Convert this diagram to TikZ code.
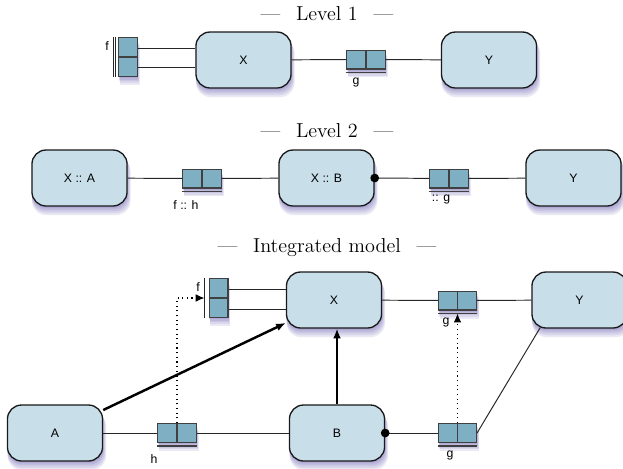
\documentclass[tikz,border=0pt]{standalone}
\usepackage{fontspec}
\setsansfont{Liberation Sans}
\usepackage{tikz}
\usetikzlibrary{arrows.meta,calc,shadows}
\definecolor{boxfill}{HTML}{C8DEE9}
\definecolor{portfill}{HTML}{7FAFC3}
\definecolor{shadecol}{HTML}{4A3F9E}
\tikzset{
  shadelayer/.style = {drop shadow={shadow xshift=#1*.22pt,shadow yshift=-#1*1pt,
                       shadow scale=1+#1*.008,fill=shadecol,opacity=.11}},
  softshadow/.style = {shadelayer=4.5, shadelayer=3.6, shadelayer=2.7, shadelayer=1.8, shadelayer=1},
  block/.style      = {draw=black!90, line width=.75pt, fill=boxfill, rounded corners=8pt,
                       minimum width=54.2pt, minimum height=31.9pt, inner sep=0pt,
                       font=\sffamily\scriptsize, softshadow},
  portcell/.style   = {draw=black!75, line width=.6pt, fill=portfill, inner sep=0pt, softshadow},
  hport/.style      = {portcell, minimum width=21.7pt, minimum height=10.8pt,
                       path picture={\draw[black!75,line width=.6pt]
                         (path picture bounding box.north) -- (path picture bounding box.south);}},
  vport/.style      = {portcell, minimum width=10.8pt, minimum height=21.7pt,
                       path picture={\draw[black!75,line width=.6pt]
                         (path picture bounding box.west) -- (path picture bounding box.east);}},
  wire/.style       = {black!85, line width=.55pt},
  uline/.style      = {black!75, line width=.8pt},
  depend/.style     = {-{Latex[length=5.5pt,width=4.5pt]}, line width=1.4pt},
  trigger/.style    = {-{Latex[length=5pt,width=4.4pt]}, dotted, line width=.65pt},
  portlbl/.style    = {font=\sffamily\scriptsize, inner sep=0pt},
  leveltitle/.style = {font=\fontsize{11.5}{13}\selectfont},
  joint/.style      = {circle, fill=black, inner sep=0pt, minimum size=5pt}
}
\newcommand{\lvl}[1]{---\hspace{9pt}#1\hspace{9pt}---}

\begin{document}
\begin{tikzpicture}[x=0.57pt,y=-0.57pt]
  \useasboundingbox (0,0) rectangle (623,468);

  \node[leveltitle] (t1) at (327,14) {\lvl{Level 1}};
  \node[block] (X1) at (243.5,60) {X};
  \node[block] (Y1) at (489,60) {Y};
  \node[hport] (g1) at (366,59.5) {};
  \node[vport] (f1) at (128,57) {};
  \node[portlbl] (g1l) at (356,82) {g};
  \node[portlbl] (f1l) at (107,46) {f};
  \draw[wire] (X1) -- (g1) -- (Y1);
  \coordinate (f1u) at ($(f1.north east)!.28!(f1.south east)$);
  \coordinate (f1d) at ($(f1.north east)!.78!(f1.south east)$);
  \draw[wire] (f1u) -- (f1u -| X1.west);
  \draw[wire] (f1d) -- (f1d -| X1.west);
  \draw[wire] ([xshift=-1.3pt]f1.north west) -- ([xshift=-1.3pt]f1.south west);
  \draw[wire] ([xshift=-2.5pt]f1.north west) -- ([xshift=-2.5pt]f1.south west);

  \node[leveltitle] (t2) at (327,131) {\lvl{Level 2}};
  \node[block] (XA) at (79.5,178) {X :: A};
  \node[block] (XB) at (326.5,178) {X :: B};
  \node[block] (Y2) at (573.5,178) {Y};
  \node[hport] (fh) at (202,178.5) {};
  \node[hport] (gg) at (449,178.5) {};
  \node[portlbl] (fhl) at (186,205) {f :: h};
  \node[portlbl] (ggl) at (441,199) {:: g};
  \draw[wire] (XA) -- (fh) -- (XB);
  \draw[wire] (XB.east) -- (gg) -- (Y2);
  \node[joint] (jB2) at (XB.east) {};

  \node[leveltitle] (t3) at (327,248) {\lvl{Integrated model}};
  \node[block] (X3) at (334,300) {X};
  \node[block] (Y3) at (579.5,300) {Y};
  \node[block] (A) at (55,433) {A};
  \node[block] (B) at (337,433) {B};
  \node[hport] (gI) at (457.5,300.5) {};
  \node[vport] (fI) at (218.5,298) {};
  \node[hport] (hI) at (177,433) {};
  \node[hport] (gII) at (457.5,433) {};
  \node[portlbl] (gIl) at (446,322) {g};
  \node[portlbl] (fIl) at (198,287) {f};
  \node[portlbl] (hIl) at (154,459) {h};
  \node[portlbl] (gIIl) at (450,455) {g};
  \draw[wire] (X3) -- (gI) -- (Y3);
  \coordinate (fIu) at ($(fI.north east)!.29!(fI.south east)$);
  \coordinate (fId) at ($(fI.north east)!.79!(fI.south east)$);
  \draw[wire] (fIu) -- (fIu -| X3.west);
  \draw[wire] (fId) -- (fId -| X3.west);
  \draw[wire] ([xshift=-2.3pt]fI.north west) -- ([xshift=-2.3pt]fI.south west);
  \coordinate (fIbar) at ([xshift=-2.3pt]fI.west);
  \draw[wire] (A) -- (hI) -- (B);
  \draw[wire] (B.east) -- (gII);
  \node[joint] (jB3) at (B.east) {};
  \draw[wire] (gII.east) -- ([xshift=5.1pt,yshift=.6pt]Y3.south west);
  \draw[depend] (A) -- (X3);
  \draw[depend] (B.north) -- (B.north |- X3.south);

  \foreach \p in {g1,fh,gg,gI,hI,gII}
    { \draw[uline] ([yshift=-1.8pt]\p.south west) -- ([yshift=-1.8pt]\p.south east); }
  \coordinate (gIul) at ([yshift=-1.8pt]gI.south);
  \draw[trigger] (hI.north) |- (fIbar);
  \draw[trigger] (gII.north) -- (gII.north |- gIul);
\end{tikzpicture}
\end{document}
